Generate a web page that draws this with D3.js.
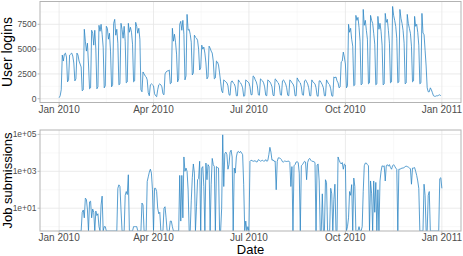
<!DOCTYPE html>
<html>
<head>
<meta charset="utf-8">
<script src="https://cdn.jsdelivr.net/npm/d3@7"></script>
<style>
body { margin: 0; background: #fff; }
svg { display: block; font-family: "Liberation Sans", Arial, sans-serif; }
</style>
</head>
<body>
<script>
var width = 463, height = 256;

// daily series, first value = 1 Jan 2010 (a friday), then mon..sun per row
var startDate = new Date(2010, 0, 1);

var logins = [100, 300, 900,
  4400, 3800, 4500, 4600, 4200, 1700, 1900,
  4400, 4500, 4600, 4300, 3600, 1800, 2000,
  4600, 4400, 3800, 3500, 3200, 800, 900,
  7000, 5800, 4800, 5600, 3500, 1000, 1100,
  6900, 6600, 5400, 6900, 5000, 1000, 1200,
  7400, 6800, 7500, 6500, 5200, 1100, 1300,
  7300, 7100, 6000, 6600, 4800, 1200, 1400,
  7600, 8000, 6400, 7000, 5600, 1400, 1500,
  7600, 7000, 6100, 7300, 5800, 1600, 1700,
  7600, 6700, 7200, 6700, 5500, 1700, 1800,
  7700, 7300, 6600, 7100, 6000, 900, 700,
  2700, 2500, 2300, 2200, 1900, 600, 300,
  1400, 1500, 1400, 1300, 500, 300, 200,
  900, 1400, 1500, 1400, 1200, 500, 400,
  2500, 2700, 2800, 2800, 2900, 1500, 1600,
  7100, 5800, 6500, 5700, 4500, 1700, 2000,
  7500, 7800, 6900, 7900, 6500, 1900, 2300,
  8500, 6900, 7000, 6500, 5700, 2400, 2600,
  6400, 6200, 6100, 5900, 5000, 2900, 3100,
  5400, 5000, 5200, 4600, 3600, 2000, 2200,
  5300, 5100, 4800, 4600, 3800, 2000, 2100,
  3800, 3700, 3400, 2600, 1700, 800, 600,
  1900, 1800, 1700, 1600, 1300, 400, 350,
  1700, 1800, 1600, 1500, 1200, 300, 300,
  1900, 1700, 1600, 1400, 1100, 250, 300,
  1900, 1800, 1700, 1600, 1200, 400, 400,
  2300, 2200, 1900, 1700, 1300, 400, 350,
  2000, 1900, 1800, 1600, 1200, 350, 300,
  1900, 1800, 1700, 1500, 1200, 350, 300,
  2000, 1900, 1700, 1600, 1300, 400, 350,
  1800, 1900, 1700, 1500, 1100, 350, 300,
  1900, 1800, 1600, 1500, 1200, 300, 300,
  2100, 1900, 1700, 1600, 1200, 400, 350,
  1800, 1900, 1700, 1500, 1100, 300, 300,
  1900, 1700, 1600, 1500, 1100, 300, 250,
  1800, 1800, 1600, 1400, 1100, 300, 300,
  1900, 1700, 1500, 1400, 1000, 300, 250,
  2200, 2100, 2200, 1800, 1600, 1100, 1200,
  3700, 3800, 4700, 4200, 3500, 1100, 1300,
  7500, 6700, 7100, 6000, 5300, 1300, 1400,
  8400, 7900, 8200, 7200, 5800, 1400, 1500,
  9000, 7400, 7900, 6900, 6000, 1500, 1600,
  8400, 7900, 7600, 6600, 5500, 1400, 1500,
  8300, 7000, 7600, 6800, 5400, 1400, 1500,
  8600, 7700, 8000, 6900, 5600, 1600, 1700,
  9300, 8400, 7900, 7300, 6100, 1600, 1700,
  9000, 8100, 7600, 6900, 5600, 1500, 1600,
  8500, 7600, 7100, 6600, 5300, 1700, 1800,
  8300, 7300, 7500, 6700, 5400, 1500, 1600,
  8600, 6600, 6500, 4900, 3300, 1100, 700,
  700, 1100, 900, 600, 300, 250, 250,
  300, 300, 350, 400, 300];

// 0 = no submissions that day (drawn on the lower edge like -Inf in ggplot)
var jobs = [0, 0, 0,
  0, 0, 0, 0, 0, 0, 0,
  0, 0, 0, 0, 0, 0, 0,
  0, 0, 0, 0, 0, 6, 8,
  3, 35, 30, 8, 0, 22, 24,
  3, 9, 6, 0, 7, 4, 5,
  1, 0, 15, 45, 0, 1, 1,
  0, 0, 0, 0, 0, 0, 0,
  0, 0, 0, 0, 120, 185, 150,
  8, 0, 0, 0, 50, 80, 55,
  650, 0, 0, 0, 0, 1, 1,
  1, 1, 0, 0, 0, 0, 19,
  15, 0, 0, 0, 280, 500, 900,
  1300, 800, 100, 0, 120, 120, 80,
  10, 5, 6, 0, 0, 0, 10,
  12, 3, 0, 0, 0, 2, 2,
  1, 0, 0, 0, 0, 0, 0,
  600, 2, 600, 3, 6000, 1000, 1500,
  1000, 100, 0, 0, 25, 450, 2500,
  800, 0, 12, 350, 400, 3500, 0,
  1500, 1800, 150, 0, 2800, 350, 2300,
  1800, 0, 200, 5000, 2300, 1800, 0,
  1800, 1600, 1500, 0, 0, 10, 95000,
  150, 9000, 11000, 8000, 1300, 2300, 11000,
  14000, 6000, 0, 1500, 800, 6000, 11000,
  12000, 10000, 12000, 10000, 8000, 200, 0,
  2, 0, 1, 0, 3500, 4000, 3800,
  3500, 3600, 3800, 3200, 3300, 4300, 4000,
  3500, 3800, 4000, 3500, 3600, 4300, 3500,
  3800, 8000, 20000, 11000, 4000, 4200, 3500,
  3600, 100, 3500, 5400, 5300, 5000, 4300,
  3300, 3200, 3600, 3500, 3400, 3500, 3600,
  3000, 150, 1800, 0, 2000, 2300, 3200,
  3300, 3000, 800, 0, 2000, 2300, 2800,
  3500, 3200, 350, 3000, 4500, 5000, 4000,
  3500, 3500, 3300, 3000, 0, 2200, 2500,
  300, 0, 0, 60, 0, 0, 350,
  250, 0, 0, 0, 120, 60, 0,
  30, 200, 0, 0, 6000, 4000, 3000,
  2500, 3000, 1300, 2500, 2200, 0, 1,
  3, 80, 50, 190, 0, 430, 150,
  0, 0, 0, 1, 0, 0, 1,
  80, 2000, 2800, 2800, 2300, 2000, 0,
  300, 60, 0, 300, 6, 250, 0,
  100, 0, 300, 1000, 2000, 1800, 2000,
  300, 2000, 2300, 1900, 2300, 1600, 1300,
  2000, 2300, 1900, 1500, 1300, 0, 1300,
  1300, 1400, 1500, 1500, 1600, 1800, 1900,
  1800, 1700, 1500, 1400, 200, 1500, 1500,
  1600, 1000, 600, 300, 120, 0, 0,
  0, 0, 200, 50, 0, 0, 50,
  80, 0, 0, 0, 0, 0, 0,
  0, 0, 0, 400, 450, 120];

var xTicks = [new Date(2010, 0, 1), new Date(2010, 3, 1), new Date(2010, 6, 1), new Date(2010, 9, 1), new Date(2011, 0, 1)];
var xTickLabels = ["Jan 2010", "Apr 2010", "Jul 2010", "Oct 2010", "Jan 2011"];
var loginTicks = [0, 2500, 5000, 7500];
var loginMinor = [1250, 3750, 6250, 8750];
var loginTickLabels = ["0", "2500", "5000", "7500"];
var jobTicks = [10, 1000, 100000];
var jobMinor = [1, 100, 10000];
var jobTickLabels = ["1e+01", "1e+03", "1e+05"];

var svg = d3.select("body").append("svg")
    .attr("width", width)
    .attr("height", height);

var left = 40, right = 461;

// 5% padding on each side like ggplot
var x = d3.scaleTime()
    .domain([d3.timeHour.offset(xTicks[0], -438), d3.timeHour.offset(xTicks[4], 438)])
    .range([left, right]);

var xMinor = d3.pairs(xTicks).map(function(p) { return new Date((+p[0] + +p[1]) / 2); });

function day(i) { return d3.timeDay.offset(startDate, i); }

function panel(id, top, bottom, y, values, ticks, minor, labels, title, titleSize) {
    var g = svg.append("g");

    g.append("defs").append("clipPath").attr("id", id)
        .append("rect")
        .attr("x", left).attr("y", top)
        .attr("width", right - left).attr("height", bottom - top);

    // minor then major grid
    g.selectAll(".ymin").data(minor).enter().append("line")
        .attr("x1", left).attr("x2", right)
        .attr("y1", function(d) { return y(d); }).attr("y2", function(d) { return y(d); })
        .style("stroke", "#f2f2f2").style("stroke-width", 0.5);
    g.selectAll(".xmin").data(xMinor).enter().append("line")
        .attr("y1", top).attr("y2", bottom)
        .attr("x1", function(d) { return x(d); }).attr("x2", function(d) { return x(d); })
        .style("stroke", "#f2f2f2").style("stroke-width", 0.5);
    g.selectAll(".ymaj").data(ticks).enter().append("line")
        .attr("x1", left).attr("x2", right)
        .attr("y1", function(d) { return y(d); }).attr("y2", function(d) { return y(d); })
        .style("stroke", "#e6e6e6").style("stroke-width", 0.8);
    g.selectAll(".xmaj").data(xTicks).enter().append("line")
        .attr("y1", top).attr("y2", bottom)
        .attr("x1", function(d) { return x(d); }).attr("x2", function(d) { return x(d); })
        .style("stroke", "#e6e6e6").style("stroke-width", 0.8);

    var line = d3.line()
        .x(function(d, i) { return x(day(i)); })
        .y(function(d) { return d > 0 ? y(d) : y.range()[0]; });

    g.append("path")
        .datum(values)
        .attr("clip-path", "url(#" + id + ")")
        .attr("d", line)
        .style("fill", "none")
        .style("stroke", "#2f86c4")
        .style("stroke-width", 0.8)
        .style("stroke-linejoin", "round");

    g.append("rect")
        .attr("x", left).attr("y", top)
        .attr("width", right - left).attr("height", bottom - top)
        .style("fill", "none").style("stroke", "#b3b3b3").style("stroke-width", 1);

    // ticks + labels
    g.selectAll(".yt").data(ticks).enter().append("line")
        .attr("x1", left - 2.5).attr("x2", left)
        .attr("y1", function(d) { return y(d); }).attr("y2", function(d) { return y(d); })
        .style("stroke", "#b3b3b3").style("stroke-width", 0.8);
    g.selectAll(".yl").data(ticks).enter().append("text")
        .attr("x", left - 3.5)
        .attr("y", function(d) { return y(d) + 3; })
        .attr("text-anchor", "end")
        .style("font-size", "8.5px").style("fill", "#4d4d4d")
        .text(function(d, i) { return labels[i]; });
    g.selectAll(".xt").data(xTicks).enter().append("line")
        .attr("y1", bottom).attr("y2", bottom + 2.5)
        .attr("x1", function(d) { return x(d); }).attr("x2", function(d) { return x(d); })
        .style("stroke", "#b3b3b3").style("stroke-width", 0.8);
    g.selectAll(".xl").data(xTicks).enter().append("text")
        .attr("x", function(d) { return x(d); })
        .attr("y", bottom + 10)
        .attr("text-anchor", "middle")
        .style("font-size", "10px").style("fill", "#4d4d4d")
        .text(function(d, i) { return xTickLabels[i]; });

    g.append("text")
        .attr("transform", "translate(12," + ((top + bottom) / 2) + ") rotate(-90)")
        .attr("text-anchor", "middle")
        .style("font-size", titleSize + "px").style("fill", "#000")
        .text(title);
}

var yLogins = d3.scaleLinear().domain([-380, 9800]).range([102.5, 1.5]);
var yJobs = d3.scaleLog().domain([0.58, 174000]).range([231, 130]);

panel("clipTop", 1.5, 102.5, yLogins, logins, loginTicks, loginMinor, loginTickLabels, "User logins", 14);
panel("clipBottom", 130, 231, yJobs, jobs, jobTicks, jobMinor, jobTickLabels, "Job submissions", 13);

svg.append("text")
    .attr("x", (left + right) / 2)
    .attr("y", 254)
    .attr("text-anchor", "middle")
    .style("font-size", "13px").style("fill", "#000")
    .text("Date");
</script>
</body>
</html>
